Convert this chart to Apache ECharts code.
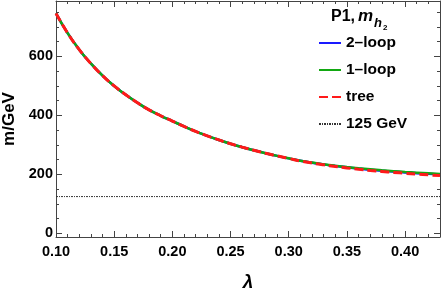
<!DOCTYPE html>
<html>
<head>
<meta charset="utf-8">
<script src="https://cdn.jsdelivr.net/npm/echarts@6/dist/echarts.min.js"></script>
<style>html,body{margin:0;padding:0;background:#fff;}#c{width:441px;height:288px;}</style>
</head>
<body>
<div id="c"></div>
<script>
const lambdaVals = [0.10,0.11,0.12,0.13,0.14,0.15,0.16,0.17,0.18,0.19,0.20,0.21,0.22,0.23,0.24,0.25,0.26,0.27,0.28,0.29,0.30,0.31,0.32,0.33,0.34,0.35,0.36,0.37,0.38,0.39,0.40,0.41,0.42,0.43];
const oneLoop = [746,679,623,576,535,500,470,443,419,399,381,363,346,331,317,304,292.5,282,272.2,263.1,254.7,246.7,240.2,234.6,229.6,225.1,221.1,217.5,214.2,211.2,208.5,206.1,203.9,201.9];
const twoLoop = [746,679,623,576,535,500,470,443,419,399,381,363,346,331,317,304,292.5,282,272.2,263,254.5,246.3,239.7,234,228.8,224.2,220,216.2,212.8,209.7,206.9,204.3,202,199.8];
const tree    = [746,679,623,576,535,500,470,443,419,399,381,363,346,331,317,304,292.5,282,272,262.8,254.2,245.7,238.7,232.6,227.1,222.1,217.6,213.7,210.2,207,204,201.3,198.6,196.2];
const higgsMass = 125;
const xMajor = [0.10,0.15,0.20,0.25,0.30,0.35,0.40];
const xMinor = [0.11,0.12,0.13,0.14,0.16,0.17,0.18,0.19,0.21,0.22,0.23,0.24,0.26,0.27,0.28,0.29,0.31,0.32,0.33,0.34,0.36,0.37,0.38,0.39,0.41,0.42,0.43];
const yMajor = [0,200,400,600];
const yMinor = [50,100,150,250,300,350,450,500,550,650,700,750];
const seriesNames = ['2\u2013loop','1\u2013loop','tree','125 GeV'];

const X_MIN = 0.1, X_MAX = 0.43, Y_MIN = -12, Y_MAX = 788;
const FONT = "'Liberation Sans', Arial, Helvetica, sans-serif";
const frameColor = '#444';

function pairs(xs, ys){ return xs.map((x,i)=>[x, ys[i]]); }

function xAx(pos, ticks, len, labels, showLine){
  return {
    type:'value', position:pos, min:X_MIN, max:X_MAX,
    axisLine:{show:showLine, onZero:false, lineStyle:{color:frameColor, width:1}},
    axisTick:{show:true, inside:true, length:len, customValues:ticks, lineStyle:{color:frameColor}},
    axisLabel: labels ? {show:true, customValues:ticks, formatter:v=>v.toFixed(2), margin:7,
      fontFamily:FONT, fontWeight:'bold', fontSize:14.5, color:'#000'} : {show:false},
    splitLine:{show:false}
  };
}
function yAx(pos, ticks, len, labels, showLine){
  return {
    type:'value', position:pos, min:Y_MIN, max:Y_MAX,
    axisLine:{show:showLine, onZero:false, lineStyle:{color:frameColor, width:1}},
    axisTick:{show:true, inside:true, length:len, customValues:ticks, lineStyle:{color:frameColor}},
    axisLabel: labels ? {show:true, customValues:ticks, formatter:v=>String(v), margin:3,
      fontFamily:FONT, fontWeight:'bold', fontSize:14.5, color:'#000'} : {show:false},
    splitLine:{show:false}
  };
}

const xAxes = [xAx('bottom', xMajor, 6, true, true), xAx('bottom', xMinor, 3, false, false),
               xAx('top', xMajor, 6, false, true), xAx('top', xMinor, 3, false, false)];
xAxes[0].name = '\u03bb';
xAxes[0].nameLocation = 'middle';
xAxes[0].nameGap = 36;
xAxes[0].nameTextStyle = {fontFamily:FONT, fontWeight:'bold', fontStyle:'italic', fontSize:19, color:'#000'};
const yAxes = [yAx('left', yMajor, 6, true, true), yAx('left', yMinor, 3, false, false),
               yAx('right', yMajor, 6, false, true), yAx('right', yMinor, 3, false, false)];
yAxes[0].name = 'm/GeV';
yAxes[0].nameLocation = 'middle';
yAxes[0].nameGap = 36;
yAxes[0].nameTextStyle = {fontFamily:FONT, fontWeight:'bold', fontSize:17, color:'#000'};

const chart = echarts.init(document.getElementById('c'), null, {renderer:'canvas'});
chart.setOption({
  animation:false,
  backgroundColor:'#fff',
  grid:{left:56, right:1, top:1, bottom:51, containLabel:false, outerBoundsMode:'none'},
  xAxis:xAxes,
  yAxis:yAxes,
  legend:{
    orient:'vertical', left:318, top:35, padding:0,
    itemWidth:22, itemHeight:14, itemGap:11,
    itemStyle:{opacity:0},
    data:seriesNames,
    textStyle:{fontFamily:FONT, fontWeight:'bold', fontSize:15.5, color:'#000'}
  },
  graphic:[
    {type:'text', left:331, top:9, style:{text:'P1,', font:"bold 16px "+FONT, fill:'#000'}},
    {type:'text', left:358, top:8, style:{text:'m', font:"italic bold 17px "+FONT, fill:'#000'}},
    {type:'text', left:374, top:17, style:{text:'h', font:"italic bold 13px "+FONT, fill:'#000'}},
    {type:'text', left:383, top:24, style:{text:'2', font:"bold 8px "+FONT, fill:'#000'}}
  ],
  series:[
    {name:seriesNames[0], type:'line', symbol:'none', data:pairs(lambdaVals, twoLoop), smooth:true,
     lineStyle:{color:'#1a1aff', width:2.5}, itemStyle:{color:'#1a1aff'}, z:2},
    {name:seriesNames[1], type:'line', symbol:'none', data:pairs(lambdaVals, oneLoop), smooth:true,
     lineStyle:{color:'#12a812', width:2.5}, itemStyle:{color:'#12a812'}, z:3},
    {name:seriesNames[2], type:'line', symbol:'none', data:pairs(lambdaVals, tree), smooth:true,
     lineStyle:{color:'#ff1a1a', width:3, type:[9,4]}, itemStyle:{color:'#ff1a1a'}, z:4},
    {name:seriesNames[3], type:'line', symbol:'none', data:[[X_MIN, higgsMass],[X_MAX, higgsMass]],
     lineStyle:{color:'#333', width:1, type:[2,1,1,1]}, itemStyle:{color:'#333'}, z:1}
  ]
});
</script>
</body>
</html>
